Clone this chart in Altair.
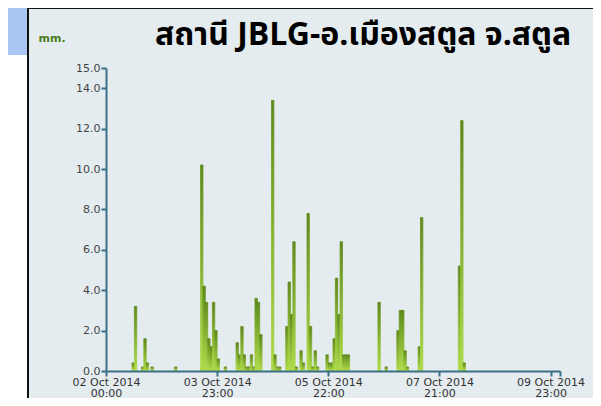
import altair as alt
import pandas as pd

# Hours after 02 Oct 2014 00:00 and rainfall (mm) per hour
hours = [11, 12, 15, 16, 17, 19, 29, 40, 41, 42, 43, 44, 45, 46, 47, 50,
         55, 56, 57, 58, 59, 60, 61, 62, 63, 64, 65, 70, 71, 72, 73,
         76, 77, 78, 79, 80, 82, 83, 85, 86, 87, 88, 89, 93, 94, 95, 96,
         97, 98, 99, 100, 101, 102, 115, 118, 123, 124, 125, 126, 127,
         132, 133, 149, 150, 151]
rain = [0.4, 3.2, 0.2, 1.6, 0.4, 0.2, 0.2, 10.2, 4.2, 3.4, 1.6, 1.2, 3.4, 2.0, 0.6, 0.2,
        1.4, 0.8, 2.2, 0.8, 0.2, 0.2, 0.8, 0.2, 3.6, 3.4, 1.8, 13.4, 0.8, 0.2, 0.2,
        2.2, 4.4, 2.8, 6.4, 0.2, 1.0, 0.4, 7.8, 2.2, 0.2, 1.0, 0.2, 0.8, 0.4, 0.4, 1.6,
        4.6, 2.8, 6.4, 0.8, 0.8, 0.8, 3.4, 0.2, 2.0, 3.0, 3.0, 1.0, 0.2,
        1.2, 7.6, 5.2, 12.4, 0.4]

x_ticks = [0, 47, 94, 141, 188, 192]
x_tick_dates = ["02 Oct 2014", "03 Oct 2014", "05 Oct 2014", "07 Oct 2014", "09 Oct 2014", ""]
x_tick_times = ["00:00", "23:00", "22:00", "21:00", "23:00", ""]
y_ticks = [0, 2, 4, 6, 8, 10, 12, 14, 15]

title_text = "สถานี JBLG-อ.เมืองสตูล จ.สตูล"

df = pd.DataFrame({"hour": hours, "rain": rain})

label_expr = ""
for v, d, t in zip(x_ticks, x_tick_dates, x_tick_times):
    label_expr += f"datum.value == {v} ? ['{d}', '{t}'] : "
label_expr += "''"

axis_col = "#3b6f86"
font = "DejaVu Sans"
bar_grad = {
    "gradient": "linear",
    "x1": 0, "y1": 0, "x2": 0, "y2": 1,
    "stops": [
        {"offset": 0, "color": "#5d8a1a"},
        {"offset": 1, "color": "#afdc4b"},
    ],
}

# decorative panel frame (screenshot window) behind the plot
frame_df = pd.DataFrame({"k": [0]})
panel = alt.Chart(frame_df).mark_rect(fill="#e5ecef").encode(
    x=alt.value(-78), x2=alt.value(490),
    y=alt.value(-60), y2=alt.value(340),
)
side = alt.Chart(frame_df).mark_rect(fill="#a9c6f2").encode(
    x=alt.value(-100), x2=alt.value(-79),
    y=alt.value(-62), y2=alt.value(-13),
)
border_v = alt.Chart(frame_df).mark_rule(color="#111111", strokeWidth=2).encode(
    x=alt.value(-78), y=alt.value(-60), y2=alt.value(340),
)
border_h = alt.Chart(frame_df).mark_rule(color="#111111", strokeWidth=2).encode(
    x=alt.value(-78), x2=alt.value(490), y=alt.value(-60),
)

bars = alt.Chart(df).transform_calculate(
    hour_end="datum.hour + 1"
).mark_bar(
    color=bar_grad,
    stroke=bar_grad,
    strokeWidth=0.8,
).encode(
    x=alt.X(
        "hour:Q",
        scale=alt.Scale(domain=[0, 192], nice=False, zero=False),
        axis=alt.Axis(
            values=x_ticks,
            labelExpr=label_expr,
            title=None,
            grid=False,
            domainColor=axis_col,
            domainWidth=2,
            tickColor=axis_col,
            tickWidth=2,
            tickSize=5,
            labelFont=font,
            labelFontSize=11,
            labelColor="#333333",
            labelLineHeight=11.5,
            labelPadding=0,
            labelOverlap=False,
            labelFlush=False,
            zindex=1,
        ),
    ),
    x2="hour_end:Q",
    y=alt.Y(
        "rain:Q",
        scale=alt.Scale(domain=[0, 15], nice=False),
        axis=alt.Axis(
            values=y_ticks,
            format=".1f",
            title="mm.",
            titleAngle=0,
            titleAlign="left",
            titleBaseline="middle",
            titleX=-68,
            titleY=-30,
            titleFont=font,
            titleFontSize=11,
            titleFontWeight="bold",
            titleColor="#4b7d1e",
            grid=False,
            domainColor=axis_col,
            domainWidth=2,
            tickColor=axis_col,
            tickWidth=2,
            tickSize=5,
            labelFont=font,
            labelFontSize=11,
            labelColor="#444444",
            labelPadding=1,
            zindex=1,
        ),
    ),
    y2=alt.datum(0),
)

chart = alt.layer(side, panel, border_v, border_h, bars).properties(
    width=454,
    height=303,
    autosize=alt.AutoSizeParams(type="none"),
    padding={"left": 98, "top": 60, "right": 33, "bottom": 27},
    background="#ffffff",
    title=alt.TitleParams(
        text=title_text,
        anchor="start",
        frame="group",
        dx=49,
        dy=58,
        offset=12,
        fontSize=32,
        fontWeight="bold",
        color="#000000",
        font="Noto Sans Thai, Tahoma, Leelawadee UI, DejaVu Sans, sans-serif",
        zindex=1,
    ),
).configure_view(stroke=None)

chart.save("out.html", embed_options={"renderer": "svg", "actions": False})
